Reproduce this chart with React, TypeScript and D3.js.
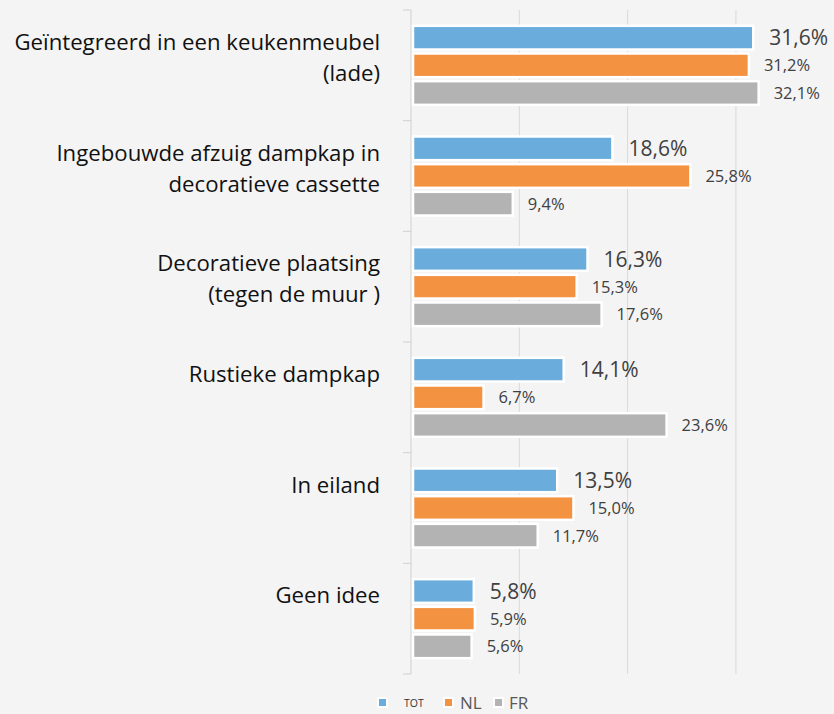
import React from "react";
import * as d3 from "d3";

const categories = [
  "Geïntegreerd in een keukenmeubel\n(lade)",
  "Ingebouwde afzuig dampkap in\ndecoratieve cassette",
  "Decoratieve plaatsing\n(tegen de muur )",
  "Rustieke dampkap",
  "In eiland",
  "Geen idee",
];
const seriesNames = ["TOT", "NL", "FR"];
const totValues = [31.6, 18.6, 16.3, 14.1, 13.5, 5.8];
const nlValues = [31.2, 25.8, 15.3, 6.7, 15.0, 5.9];
const frValues = [32.1, 9.4, 17.6, 23.6, 11.7, 5.6];
const gridTicks = [0, 10, 20, 30];

const colors = ["#6aacdc", "#f39342", "#b3b3b3"];
const W = 834;
const H = 714;
const FONT = "'Open Sans', 'Noto Sans', 'Liberation Sans', sans-serif";

export default function App() {
  const series = [totValues, nlValues, frValues];
  const x = d3.scaleLinear().domain([0, 35]).range([411, 411 + 10.83 * 35]);
  const y = d3.scaleBand<string>().domain(categories).range([10, 674]).paddingInner(0).paddingOuter(0);
  const yInner = d3
    .scaleBand<string>()
    .domain(seriesNames)
    .range([0, y.bandwidth()])
    .paddingInner(0)
    .paddingOuter(0.5);
  const fmt = (v: number) => v.toFixed(1).replace(".", ",") + "%";
  const boundaries = categories.map((c) => y(c) as number).concat([674]);

  return (
    <svg
      width={W}
      height={H}
      style={{ position: "absolute", left: 0, top: 0, background: "#f4f4f4" }}
      fontFamily={FONT}
    >
      <rect x={0} y={0} width={W} height={H} fill="#f4f4f4" />
      {gridTicks.slice(1).map((t) => (
        <line key={t} x1={x(t)} x2={x(t)} y1={10} y2={674} stroke="#d9d9d9" strokeWidth={1} />
      ))}
      <line x1={x(0)} x2={x(0)} y1={10} y2={674} stroke="#d0d0d0" strokeWidth={1} />
      {boundaries.map((b, i) => (
        <line key={i} x1={x(0) - 8} x2={x(0)} y1={b} y2={b} stroke="#d0d0d0" strokeWidth={1} />
      ))}
      {categories.map((c, ci) => {
        const top = y(c) as number;
        const lines = c.split("\n");
        return (
          <g key={c}>
            {lines.map((ln, li) => (
              <text
                key={li}
                x={380}
                y={top + 40 + li * 31}
                textAnchor="end"
                fontSize={22.2}
                fill="#111"
              >
                {ln}
              </text>
            ))}
            {series.map((vals, si) => {
              const by = top + (yInner(seriesNames[si]) as number);
              const bh = yInner.bandwidth();
              const v = vals[ci];
              return (
                <g key={si}>
                  <rect
                    x={x(0) + 2}
                    y={by + 2}
                    width={x(v) - x(0) - 2}
                    height={bh - 4}
                    fill={colors[si]}
                    stroke="#ffffff"
                    strokeWidth={2.5}
                  />
                  <text
                    x={x(v) + (si === 0 ? 16 : 15)}
                    y={by + bh / 2}
                    dy="0.36em"
                    fontSize={si === 0 ? 21 : 16.5}
                    fill="#404040"
                  >
                    {fmt(v)}
                  </text>
                </g>
              );
            })}
          </g>
        );
      })}
      {[
        { x: 378, size: 10.5, tx: 404 },
        { x: 444, size: 17, tx: 460 },
        { x: 494, size: 17, tx: 509 },
      ].map((l, i) => (
        <g key={i}>
          <rect x={l.x} y={698} width={9} height={9} fill={colors[i]} stroke="#fff" strokeWidth={2} />
          <text x={l.tx} y={703} dy="0.36em" fontSize={l.size} fill={i === 0 ? "#333" : "#595959"}>
            {seriesNames[i]}
          </text>
        </g>
      ))}
    </svg>
  );
}
